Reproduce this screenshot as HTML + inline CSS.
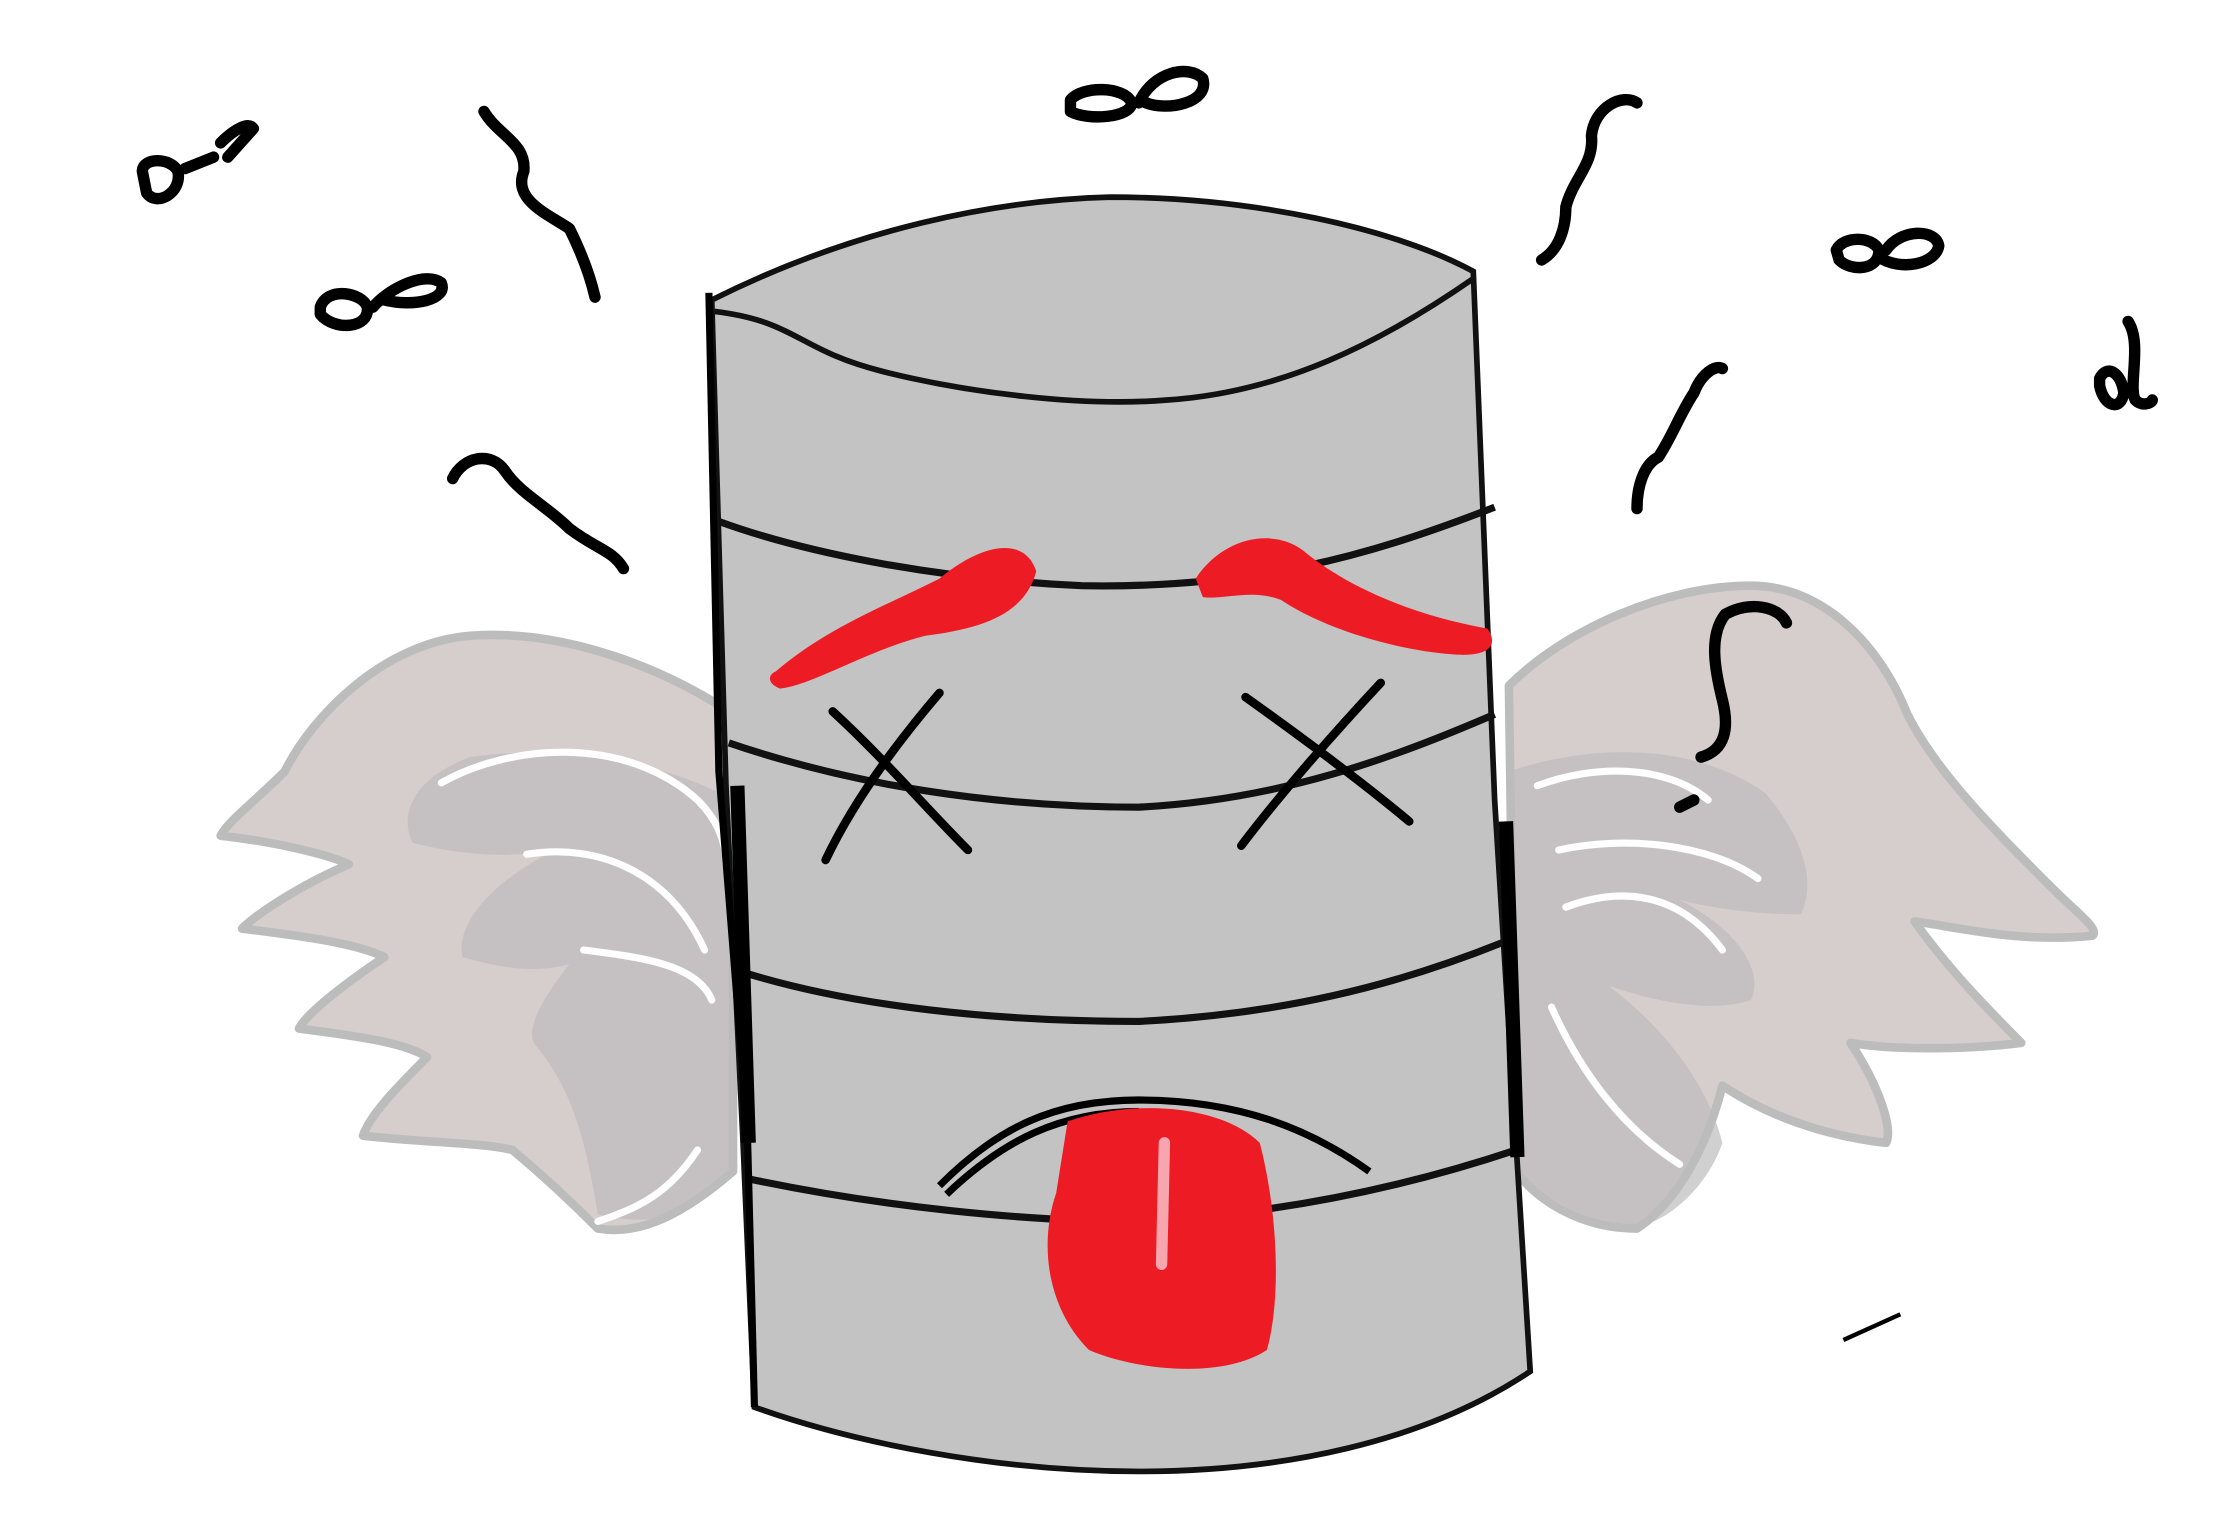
<!DOCTYPE html>
<html>
<head>
<meta charset="utf-8">
<style>
html,body{margin:0;padding:0;background:#fff;}
svg{display:block;}
</style>
</head>
<body>
<svg width="2232" height="1520" viewBox="0 0 1568 1064" preserveAspectRatio="none" xmlns="http://www.w3.org/2000/svg">
<rect width="1568" height="1064" fill="#fff"/>
<g fill="#d6cdcd" stroke="#bcbcbc" stroke-width="6" stroke-linejoin="round">
<path d="M515,500 C470,470 400,440 330,445 C270,450 220,500 200,540 C180,560 160,575 155,585 C200,590 235,600 245,605 C210,620 180,640 170,650 C210,655 250,660 270,670 C240,690 215,710 210,720 C250,725 285,730 300,740 C280,760 260,780 255,795 C300,800 340,800 360,805 C390,830 410,850 420,860 C450,865 480,850 515,820 Z"/>
</g>
<g fill="#bdbcbd" opacity="0.7">
<path d="M515,560 C470,535 400,520 330,530 C290,545 280,570 290,590 C330,600 360,600 390,595 C340,620 320,650 325,670 C360,680 380,680 400,675 C380,700 370,720 375,730 C400,760 410,790 420,850 C460,860 490,850 515,820 Z"/>
</g>
<g fill="#d6cdcd" stroke="#bcbcbc" stroke-width="6" stroke-linejoin="round">
<path d="M1060,480 C1100,440 1170,410 1230,410 C1280,410 1320,450 1340,500 C1360,540 1400,580 1440,620 C1460,640 1475,650 1470,655 C1420,660 1380,650 1345,645 C1370,680 1400,710 1420,730 C1380,735 1330,735 1300,730 C1320,760 1330,790 1325,800 C1280,795 1240,780 1210,760 C1200,800 1180,840 1150,860 C1110,860 1080,840 1065,820 Z"/>
</g>
<g fill="#bdbcbd" opacity="0.7">
<path d="M1060,540 C1120,520 1190,520 1240,555 C1270,590 1275,620 1265,640 C1230,640 1200,635 1180,630 C1220,650 1240,680 1230,700 C1200,710 1160,700 1130,690 C1170,720 1200,760 1210,800 C1200,830 1170,860 1140,860 C1100,850 1075,830 1065,820 Z"/>
</g>
<g fill="none" stroke="#fff" stroke-width="5" stroke-linecap="round">
<path d="M310,548 C360,520 440,515 490,560 510,580 510,600 510,605"/>
<path d="M370,598 C420,590 470,610 495,665"/>
<path d="M410,665 C450,670 490,675 500,700"/>
<path d="M1080,550 C1120,535 1170,535 1200,560"/>
<path d="M1095,595 C1140,585 1200,590 1235,615"/>
<path d="M1100,635 C1140,620 1180,625 1210,665"/>
<path d="M1090,705 C1110,750 1140,790 1180,815"/>
<path d="M420,855 C450,845 470,835 490,805"/>
</g>
<g>
<path d="M500,210 C600,160 700,140 780,138 C880,138 980,160 1035,190 L1050,560 L1065,800 L1075,960 C1000,1010 900,1030 800,1030 C700,1030 600,1010 530,985 L522,800 L510,550 Z" fill="#c3c3c3" stroke="#111" stroke-width="4"/>
<path d="M502,218 C560,225 560,245 620,260 C680,275 760,285 820,280 C900,275 970,240 1035,195" fill="none" stroke="#111" stroke-width="4"/>
<g fill="none" stroke="#111" stroke-width="5">
<path d="M505,365 C560,385 650,405 760,410 C880,412 960,390 1050,355"/>
<path d="M512,520 C600,550 700,565 800,565 C900,560 980,530 1050,500"/>
<path d="M520,680 C600,705 700,715 800,715 C900,710 980,690 1055,660"/>
<path d="M525,825 C620,845 720,855 800,855 C900,850 990,830 1065,805"/>
</g>
<path d="M498,205 L505,540 L525,790 L530,985" fill="none" stroke="#000" stroke-width="5"/>
<path d="M518,550 L526,800" fill="none" stroke="#000" stroke-width="10"/>
<path d="M1058,575 L1066,810" fill="none" stroke="#000" stroke-width="10"/>
</g>
<g fill="#ed1c24">
<path d="M545,470 C580,440 620,425 660,405 C690,380 720,375 728,400 C720,430 690,440 650,445 C610,455 570,480 548,482 C538,478 540,472 545,470 Z"/>
<path d="M840,405 C860,375 895,370 915,385 C945,410 990,430 1045,440 C1055,455 1040,460 1020,458 C980,455 930,440 900,420 C880,412 860,420 845,418 Z"/>
</g>
<g stroke="#000" stroke-width="6" stroke-linecap="round" fill="none">
<path d="M585,498 C620,530 650,565 680,595"/>
<path d="M660,485 C630,520 600,560 580,602"/>
<path d="M875,488 C920,520 960,550 990,575"/>
<path d="M970,478 C940,510 900,555 872,592"/>
</g>
<path d="M660,830 C700,790 740,770 800,770 C870,770 920,790 962,820 M665,836 C705,798 745,778 800,778" fill="none" stroke="#000" stroke-width="5"/>
<path d="M750,785 C800,768 860,775 885,800 C898,850 900,910 890,945 C860,965 800,960 765,945 C735,915 730,870 742,835 Z" fill="#ed1c24"/>
<path d="M818,800 L816,885" stroke="#f7a6b0" stroke-width="8" stroke-linecap="round"/>
<g fill="none" stroke="#000" stroke-width="8" stroke-linecap="round" stroke-linejoin="round">
<path d="M100,120 C100,110 120,110 125,120 C128,135 110,145 103,135 Z M130,118 L150,110 M155,100 C165,90 175,85 178,90 L160,110"/>
<path d="M340,78 C350,95 370,100 368,120 C360,140 385,150 400,160 C410,180 415,195 418,208"/>
<path d="M225,215 C230,200 255,205 258,215 C260,230 235,232 225,220 Z M262,215 C275,200 300,190 310,198 C315,210 290,215 270,210"/>
<path d="M318,335 C325,320 345,315 355,330 C365,345 385,355 400,370 C420,385 430,385 438,398"/>
<path d="M752,70 C760,60 790,60 795,72 C795,82 765,85 752,78 Z M800,72 C810,50 835,45 845,55 C850,72 820,78 805,72"/>
<path d="M1083,182 C1095,175 1100,160 1100,145 C1105,125 1120,115 1118,95 C1120,75 1140,65 1150,72"/>
<path d="M1290,175 C1295,165 1315,165 1320,175 C1320,190 1300,190 1292,182 Z M1325,175 C1335,160 1360,160 1362,172 C1360,185 1335,190 1320,180"/>
<path d="M1150,356 C1150,340 1155,325 1165,320 C1175,305 1180,290 1190,275 C1195,262 1205,255 1210,258"/>
<path d="M1475,265 C1480,255 1490,260 1492,275 C1490,288 1478,285 1475,270 Z M1495,225 C1505,240 1495,270 1500,280 C1505,285 1512,282 1512,280"/>
<path d="M1255,436 C1250,425 1230,420 1212,430 C1200,445 1205,470 1210,490 C1215,510 1212,525 1195,530"/>
<path d="M1180,565 L1190,560"/>
</g>
<path d="M1295,938 L1335,920" stroke="#000" stroke-width="3"/>
</svg>
</body>
</html>
